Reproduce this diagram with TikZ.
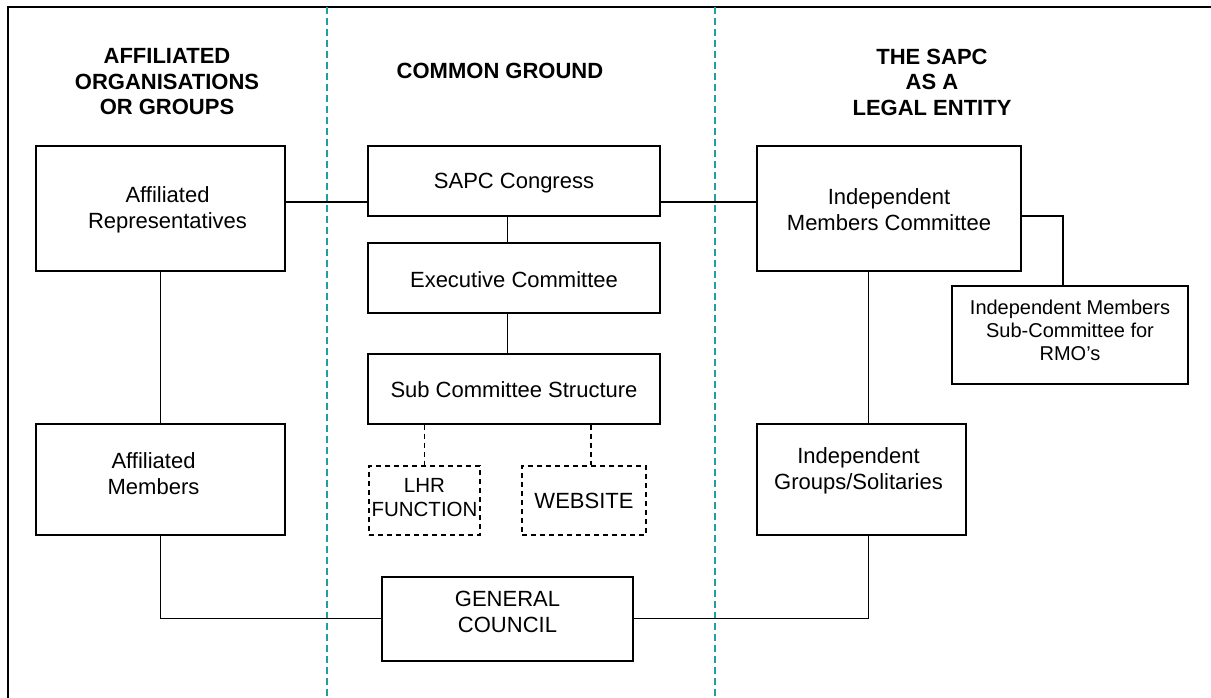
\documentclass[tikz,border=0pt]{standalone}
\usepackage{fontspec}
\setmainfont{Liberation Sans}
\definecolor{tealdash}{RGB}{30,160,160}
\begin{document}
\begin{tikzpicture}[x=1pt,y=-1pt,
  box/.style={draw,line width=1.4pt,minimum width=#1,inner sep=0pt},
  dbox/.style={draw,line width=1.4pt,dash pattern=on 5pt off 4pt,minimum width=#1,inner sep=0pt},
  txt/.style={align=center,inner sep=0pt,font=\fontsize{22}{26}\selectfont},
  stxt/.style={align=center,inner sep=0pt,font=\fontsize{20}{23}\selectfont},
  head/.style={align=center,inner sep=0pt,font=\fontsize{22}{25.5}\selectfont\bfseries},
  conn/.style={line width=1.4pt},
  dconn/.style={line width=1.4pt,dash pattern=on 5pt off 4pt},
  divider/.style={tealdash,line width=2pt,dash pattern=on 7pt off 4pt}]
\useasboundingbox (0,0) rectangle (1211,698);
% frame
\coordinate (ftr) at (1211,7);
\coordinate (ftl) at (8,7);
\coordinate (fbl) at (8,698);
\draw[line width=1.4pt] (ftr) -- (ftl) -- (fbl);
% dividers
\coordinate (d1t) at (327,7); \coordinate (d1b) at (327,698);
\coordinate (d2t) at (715,7); \coordinate (d2b) at (715,698);
\draw[divider] (d1t) -- (d1b);
\draw[divider] (d2t) -- (d2b);
% headings
\node[head] (h1) at (167,82) {AFFILIATED\\ORGANISATIONS\\OR GROUPS};
\node[head] (h2) at (500,71) {COMMON GROUND};
\node[head] (h3) at (932,82) {THE SAPC\\AS A\\LEGAL ENTITY};
% boxes
\node[box=249pt,minimum height=125pt] (ar) at (160.5,208.5) {};
\node[txt] (art) at (167.5,210) {Affiliated\\Representatives};
\node[box=249pt,minimum height=111pt] (am) at (160.5,479.5) {};
\node[txt] (amt) at (153.5,474) {Affiliated\\Members};
\node[box=292pt,minimum height=70pt] (sapc) at (514,181) {};
\node[txt] (sapct) at (514,183) {SAPC Congress};
\node[box=292pt,minimum height=70pt] (exec) at (514,278) {};
\node[txt] (exect) at (514,280) {Executive Committee};
\node[box=292pt,minimum height=70pt] (scs) at (514,389) {};
\node[txt] (scst) at (514,390) {Sub Committee Structure};
\node[dbox=111pt,minimum height=69pt] (lhr) at (424.5,500.5) {};
\node[txt,font=\fontsize{20.5}{24}\selectfont] (lhrt) at (424.5,498) {LHR\\FUNCTION};
\node[dbox=124pt,minimum height=69pt] (web) at (584,500.5) {};
\node[txt] (webt) at (584,501) {WEBSITE};
\node[box=251pt,minimum height=84pt] (gc) at (507.5,619) {};
\node[txt] (gct) at (507.5,612) {GENERAL\\COUNCIL};
\node[box=264pt,minimum height=125pt] (imc) at (889,208.5) {};
\node[txt] (imct) at (889,210) {Independent\\Members Committee};
\node[box=236pt,minimum height=98pt] (irmo) at (1070,335) {};
\node[stxt] (irmot) at (1070,330) {Independent Members\\Sub-Committee for\\RMO’s};
\node[box=209pt,minimum height=111pt] (igs) at (861.5,479.5) {};
\node[txt] (igst) at (858.5,471) {Independent\\Groups/Solitaries};
% helper coordinates
\coordinate (yc) at (0,202);
\coordinate (mx) at (507.5,0);
\coordinate (wx) at (591,0);
\coordinate (lx) at (424.5,0);
\coordinate (ax) at (160.5,0);
\coordinate (ix) at (868.5,0);
\coordinate (rx) at (1063,0);
\coordinate (ry) at (0,216);
\coordinate (gy) at (0,618.5);
% connectors
\draw[conn] (ar.east |- yc) -- (sapc.west |- yc);
\draw[conn] (sapc.east |- yc) -- (imc.west |- yc);
\draw[conn] (sapc.south -| mx) -- (exec.north -| mx);
\draw[conn] (exec.south -| mx) -- (scs.north -| mx);
\draw[dconn] (scs.south -| lx) -- (lhr.north -| lx);
\draw[dconn] (scs.south -| wx) -- (web.north -| wx);
\draw[conn] (ar.south -| ax) -- (am.north -| ax);
\draw[conn] (am.south -| ax) -- (ax |- gy) -- (gc.west |- gy);
\draw[conn] (imc.east |- ry) -- (rx |- ry) -- (irmo.north -| rx);
\draw[conn] (imc.south -| ix) -- (igs.north -| ix);
\draw[conn] (igs.south -| ix) -- (ix |- gy) -- (gc.east |- gy);
\end{tikzpicture}
\end{document}
